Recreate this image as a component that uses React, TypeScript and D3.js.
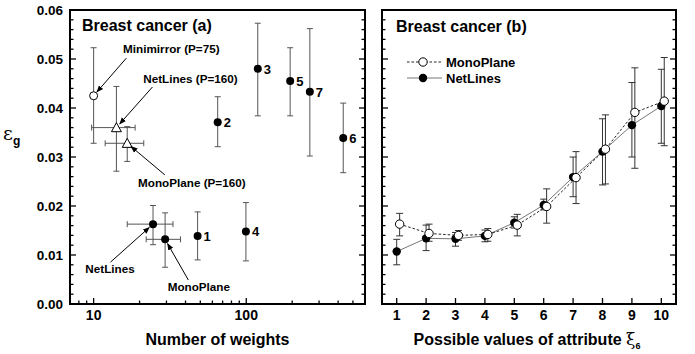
import React from "react";
import * as d3 from "d3";

// ---------- Panel (a) data ----------
const numLabels = ["1", "2", "3", "4", "5", "6", "7"];
const numWeights = [48, 65, 119, 99.5, 194, 432, 261];
const numErr = [0.0139, 0.0371, 0.048, 0.0148, 0.0455, 0.0339, 0.0433];
const numLo = [0.009, 0.0321, 0.0384, 0.0088, 0.0384, 0.0268, 0.0302];
const numHi = [0.0188, 0.0423, 0.0573, 0.0207, 0.0523, 0.041, 0.0562];

const specNames = ["Minimirror (P=75)", "NetLines (P=160)", "MonoPlane (P=160)", "NetLines", "MonoPlane"];
const specShape = ["open", "triangle", "triangle", "filled", "filled"];
const specW = [10, 14.1, 16.6, 24.5, 29.4];
const specWLo = [NaN, 9.7, 11.9, 16.6, 22.1];
const specWHi = [NaN, 18.7, 21.3, 33.1, 37.1];
const specErr = [0.0425, 0.036, 0.0328, 0.0163, 0.0132];
const specLo = [0.0328, 0.0271, 0.0291, 0.0121, 0.0075];
const specHi = [0.0523, 0.0444, 0.0362, 0.0201, 0.0186];
// annotation text anchors (data space)
const annW = [32.3, 43.1, 44.0, 12.8, 48.9];
const annE = [0.0512, 0.0451, 0.0239, 0.0063, 0.00265];

// ---------- Panel (b) data ----------
const attrVals = [1, 2, 3, 4, 5, 6, 7, 8, 9, 10];
const monoY = [0.0163, 0.0144, 0.014, 0.0142, 0.0161, 0.0199, 0.0258, 0.0316, 0.0391, 0.0414];
const monoLo = [0.0139, 0.0128, 0.013, 0.0128, 0.0139, 0.0165, 0.0205, 0.0245, 0.0277, 0.0323];
const monoHi = [0.0185, 0.0163, 0.015, 0.0154, 0.0183, 0.0235, 0.0311, 0.0386, 0.0482, 0.0503];
const netY = [0.0107, 0.0134, 0.0133, 0.0139, 0.0166, 0.0202, 0.0259, 0.0311, 0.0365, 0.0404];
const netLo = [0.008, 0.0109, 0.0118, 0.0127, 0.0155, 0.0192, 0.0219, 0.0243, 0.03, 0.0328];
const netHi = [0.0132, 0.0161, 0.0146, 0.0151, 0.0178, 0.0214, 0.03, 0.0378, 0.0452, 0.0479];

const yTicks = [0, 0.01, 0.02, 0.03, 0.04, 0.05, 0.06];
const xTicksA = [10, 100];

const FONT = "'Liberation Sans', Arial, Helvetica, sans-serif";
const W = 695, H = 354;
const top = 10, bottom = 304;
const aL = 70, aR = 365, bL = 382, bR = 676;

export default function App() {
  const y = d3.scaleLinear().domain([0, 0.06]).range([bottom, top]);
  const xa = d3.scaleLog().domain([7, 600]).range([aL, aR]);
  const xb = d3.scaleLinear().domain([0.5, 10.5]).range([bL, bR]);
  const minorY = d3.range(0, 0.0601, 0.002);

  const minorXA: number[] = [];
  [1, 10, 100].forEach((dec) => {
    for (let k = 1; k <= 9; k++) {
      const v = dec * k;
      if (v >= 7.5 && v <= 560 && k !== 1) minorXA.push(v);
    }
  });

  const yAxisTicks = (xLeft: number, xRight: number, key: string, labels: boolean) => (
    <g key={key}>
      {minorY.map((v, i) => {
        const major = i % 5 === 0;
        const len = major ? 6 : 3.5;
        return (
          <g key={i}>
            <line x1={xLeft} x2={xLeft + len} y1={y(v)} y2={y(v)} stroke="#000" strokeWidth={1.3} />
            <line x1={xRight} x2={xRight - len} y1={y(v)} y2={y(v)} stroke="#000" strokeWidth={1.3} />
          </g>
        );
      })}
      {labels &&
        yTicks.map((v, i) => (
          <text key={i} x={xLeft - 7} y={y(v) + 4.5} textAnchor="end" fontSize={13.5} fontWeight="bold" fontFamily={FONT}>
            {v.toFixed(2)}
          </text>
        ))}
    </g>
  );

  const cap = 3;
  const gapPoint = (px: number, py: number, sx: number, sy: number, g: number) => {
    const dx = sx - px, dy = sy - py;
    const L = Math.sqrt(dx * dx + dy * dy);
    return [px + (dx / L) * g, py + (dy / L) * g];
  };
  const annOffsets = [[-45, 5], [-38, 4], [-27, -12], [0.5, -11], [-10.5, -11]];

  const tri = (cx: number, cy: number, s: number) =>
    `M${cx},${cy - s * 0.6} L${cx + s * 0.55},${cy + s * 0.4} L${cx - s * 0.55},${cy + s * 0.4} Z`;

  const monoLine = d3.line<number>().x((_, i) => xb(attrVals[i] + 0.1)).y((d) => y(d));
  const netLine = d3.line<number>().x((_, i) => xb(attrVals[i])).y((d) => y(d));

  return (
    <svg width={W} height={H} style={{ position: "absolute", left: 0, top: 0 }}>
      <defs>
        <marker id="arr" viewBox="0 0 10 10" refX="9" refY="5" markerWidth="7" markerHeight="7" orient="auto" markerUnits="userSpaceOnUse">
          <path d="M0,1 L10,5 L0,9 Z" fill="#000" />
        </marker>
      </defs>
      <rect width={W} height={H} fill="#fff" />

      {/* ---------- Panel (a) ---------- */}
      {yAxisTicks(aL, aR, "ya", true)}
      {minorXA.map((v, i) => (
        <line key={i} x1={xa(v)} x2={xa(v)} y1={bottom} y2={bottom - 3.5} stroke="#000" strokeWidth={1.3} />
      ))}
      {xTicksA.map((v, i) => (
        <g key={i}>
          <line x1={xa(v)} x2={xa(v)} y1={bottom} y2={bottom - 6} stroke="#000" strokeWidth={1.3} />
          <text x={xa(v)} y={bottom + 16} textAnchor="middle" fontSize={14} fontWeight="bold" fontFamily={FONT}>
            {v}
          </text>
        </g>
      ))}
      <rect x={aL} y={top} width={aR - aL} height={bottom - top} fill="none" stroke="#000" strokeWidth={2} />
      <text x={82} y={31} fontSize={16} fontWeight="bold" fontFamily={FONT}>Breast cancer (a)</text>
      <text x={(aL + aR) / 2} y={345} textAnchor="middle" fontSize={16} fontWeight="bold" fontFamily={FONT}>
        Number of weights
      </text>
      <text x={3} y={140} fontSize={19} fontFamily="'DejaVu Serif', serif">ε</text>
      <text x={13} y={145} fontSize={12} fontWeight="bold" fontFamily={FONT}>g</text>

      {/* numbered points */}
      {numWeights.map((w, i) => (
        <g key={i}>
          <line x1={xa(w)} x2={xa(w)} y1={y(numLo[i])} y2={y(numHi[i])} stroke="#555" strokeWidth={1} />
          <line x1={xa(w) - cap} x2={xa(w) + cap} y1={y(numLo[i])} y2={y(numLo[i])} stroke="#555" strokeWidth={1} />
          <line x1={xa(w) - cap} x2={xa(w) + cap} y1={y(numHi[i])} y2={y(numHi[i])} stroke="#555" strokeWidth={1} />
          <circle cx={xa(w)} cy={y(numErr[i])} r={4} fill="#000" />
          <text x={xa(w) + 6} y={y(numErr[i]) + 5} fontSize={13} fontWeight="bold" fontFamily={FONT}>
            {numLabels[i]}
          </text>
        </g>
      ))}

      {/* special points */}
      {specW.map((w, i) => {
        const cx = xa(w), cy = y(specErr[i]);
        return (
          <g key={i}>
            <line x1={cx} x2={cx} y1={y(specLo[i])} y2={y(specHi[i])} stroke="#555" strokeWidth={1} />
            <line x1={cx - cap} x2={cx + cap} y1={y(specLo[i])} y2={y(specLo[i])} stroke="#555" strokeWidth={1} />
            <line x1={cx - cap} x2={cx + cap} y1={y(specHi[i])} y2={y(specHi[i])} stroke="#555" strokeWidth={1} />
            {!isNaN(specWLo[i]) && (
              <g>
                <line x1={xa(specWLo[i])} x2={xa(specWHi[i])} y1={cy} y2={cy} stroke="#555" strokeWidth={1} />
                <line x1={xa(specWLo[i])} x2={xa(specWLo[i])} y1={cy - cap} y2={cy + cap} stroke="#555" strokeWidth={1} />
                <line x1={xa(specWHi[i])} x2={xa(specWHi[i])} y1={cy - cap} y2={cy + cap} stroke="#555" strokeWidth={1} />
              </g>
            )}
            {specShape[i] === "open" && <circle cx={cx} cy={cy} r={4} fill="#fff" stroke="#000" strokeWidth={1} />}
            {specShape[i] === "filled" && <circle cx={cx} cy={cy} r={4} fill="#000" />}
            {specShape[i] === "triangle" && <path d={tri(cx, cy + 0.5, 9)} fill="#fff" stroke="#000" strokeWidth={1} />}
          </g>
        );
      })}

      {/* annotations */}
      {specNames.map((name, i) => {
        const tx = xa(annW[i]), ty = y(annE[i]);
        const sx = tx + annOffsets[i][0], sy = ty + annOffsets[i][1];
        const [ex, ey] = gapPoint(xa(specW[i]), y(specErr[i]), sx, sy, 5);
        return (
          <g key={i}>
            <text x={tx} y={ty} textAnchor="middle" fontSize={11.7} fontWeight="bold" fontFamily={FONT}>
              {name}
            </text>
            <line x1={sx} y1={sy} x2={ex} y2={ey} stroke="#000" strokeWidth={1} markerEnd="url(#arr)" />
          </g>
        );
      })}

      {/* ---------- Panel (b) ---------- */}
      {yAxisTicks(bL, bR, "yb", false)}
      {attrVals.map((v, i) => (
        <g key={i}>
          <line x1={xb(v)} x2={xb(v)} y1={bottom} y2={bottom - 6} stroke="#000" strokeWidth={1.3} />
          <text x={xb(v)} y={bottom + 16} textAnchor="middle" fontSize={14} fontWeight="bold" fontFamily={FONT}>
            {v}
          </text>
        </g>
      ))}
      <rect x={bL} y={top} width={bR - bL} height={bottom - top} fill="none" stroke="#000" strokeWidth={2} />
      <text x={396} y={32} fontSize={16} fontWeight="bold" fontFamily={FONT}>Breast cancer (b)</text>
      <text x={(bL + bR) / 2 - 2} y={345} textAnchor="middle" fontSize={16} fontWeight="bold" fontFamily={FONT}>
        Possible values of attribute{" "}
        <tspan fontFamily="'DejaVu Serif', serif" fontWeight="normal" fontSize={17}>ξ</tspan>
        <tspan fontSize={9} dy={4}>6</tspan>
      </text>

      <path d={netLine(netY) || ""} fill="none" stroke="#777" strokeWidth={1} />
      <path d={monoLine(monoY) || ""} fill="none" stroke="#222" strokeWidth={1} strokeDasharray="2.5,2" />

      {attrVals.map((v, i) => {
        const xn = xb(v), xm = xb(v + 0.1);
        const c = 3.5;
        return (
          <g key={i}>
            <line x1={xn} x2={xn} y1={y(netLo[i])} y2={y(netHi[i])} stroke="#333" strokeWidth={1} />
            <line x1={xn - c} x2={xn + c} y1={y(netLo[i])} y2={y(netLo[i])} stroke="#333" strokeWidth={1} />
            <line x1={xn - c} x2={xn + c} y1={y(netHi[i])} y2={y(netHi[i])} stroke="#333" strokeWidth={1} />
            <line x1={xm} x2={xm} y1={y(monoLo[i])} y2={y(monoHi[i])} stroke="#333" strokeWidth={1} />
            <line x1={xm - c} x2={xm + c} y1={y(monoLo[i])} y2={y(monoLo[i])} stroke="#333" strokeWidth={1} />
            <line x1={xm - c} x2={xm + c} y1={y(monoHi[i])} y2={y(monoHi[i])} stroke="#333" strokeWidth={1} />
          </g>
        );
      })}
      {attrVals.map((v, i) => (
        <g key={i}>
          <circle cx={xb(v)} cy={y(netY[i])} r={4.2} fill="#000" />
          <circle cx={xb(v + 0.1)} cy={y(monoY[i])} r={4.2} fill="#fff" stroke="#000" strokeWidth={1} />
        </g>
      ))}

      {/* legend */}
      <line x1={407} x2={442} y1={62} y2={62} stroke="#222" strokeWidth={1} strokeDasharray="2.5,2" />
      <circle cx={423} cy={62} r={4.2} fill="#fff" stroke="#000" strokeWidth={1} />
      <text x={446} y={66.5} fontSize={13} fontWeight="bold" fontFamily={FONT}>MonoPlane</text>
      <line x1={407} x2={442} y1={78} y2={78} stroke="#777" strokeWidth={1} />
      <circle cx={423} cy={78} r={4.2} fill="#000" />
      <text x={446} y={82.5} fontSize={13} fontWeight="bold" fontFamily={FONT}>NetLines</text>
    </svg>
  );
}
